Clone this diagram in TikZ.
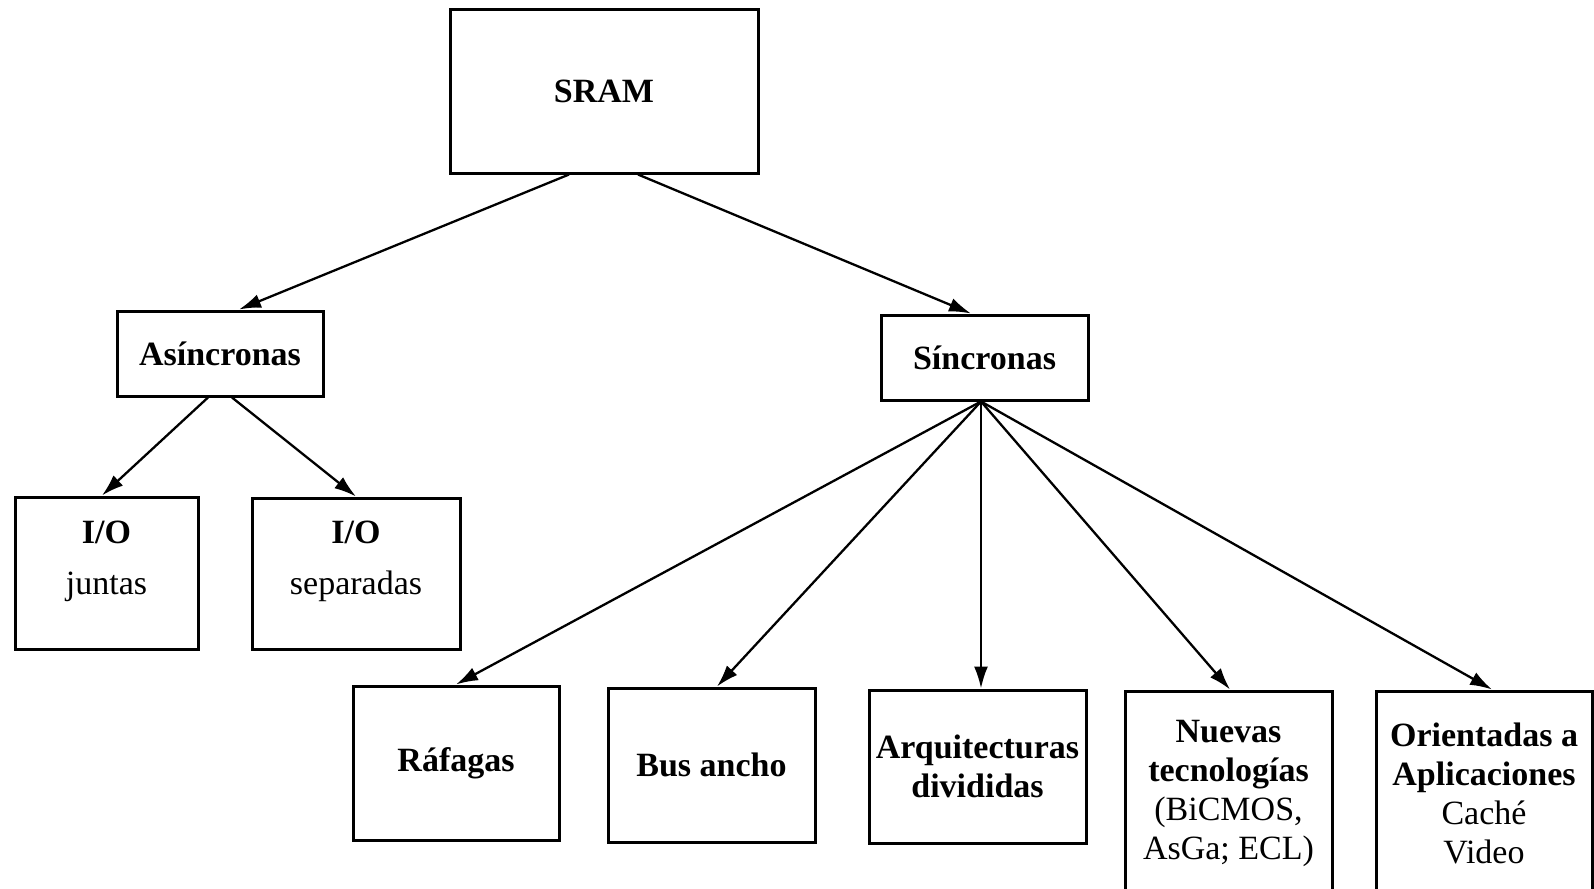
\documentclass[tikz,border=0pt]{standalone}
\usepackage{fontspec}
\setmainfont{Liberation Serif}
\usetikzlibrary{arrows.meta}
\begin{document}
\begin{tikzpicture}[x=1pt, y=-1pt,
  box/.style={draw, line width=3pt, inner sep=0pt, align=center,
    font=\fontsize{34}{39}\selectfont\bfseries},
  txt/.style={inner sep=0pt, align=center, font=\fontsize{34}{39}\selectfont},
  arr/.style={line width=2.3pt, -{Latex[length=22pt,width=14pt]}}]
\useasboundingbox (0,0) rectangle (1594,888);

% top level
\node[box, minimum width=308pt, minimum height=163pt] (sram) at (604,91.5) {SRAM};

% second level
\node[box, minimum width=206pt, minimum height=85pt] (asinc) at (220,353.5) {Asíncronas};
\node[box, minimum width=207pt, minimum height=85pt] (sinc) at (984.5,357.5) {Síncronas};

% asynchronous variants
\node[box, minimum width=183pt, minimum height=152pt] (ioj) at (106.5,573) {};
\node[txt, yshift=12pt] (iojt) at (ioj) {\textbf{I/O}\\[12pt]juntas};
\node[box, minimum width=208pt, minimum height=151pt] (iosep) at (356,573.5) {};
\node[txt, yshift=12pt] (iosept) at (iosep) {\textbf{I/O}\\[12pt]separadas};

% synchronous variants
\node[box, minimum width=206pt, minimum height=154pt] (raf) at (456,763) {Ráfagas};
\node[box, minimum width=207pt, minimum height=154pt] (bus) at (711.5,765) {Bus ancho};
\node[box, minimum width=217pt, minimum height=153pt] (arq) at (977.5,766.5) {Arquitecturas\\divididas};
% the last two boxes run past the lower edge of the page
\node[box, minimum width=207pt, minimum height=220pt] (nuev) at (1228.5,801) {};
\node[txt] (nuevt) at (1228.5,793.5)
  {\textbf{Nuevas}\\\textbf{tecnologías}\\(BiCMOS,\\AsGa; ECL)};
\node[box, minimum width=216pt, minimum height=220pt] (orien) at (1484,801) {};
\node[txt] (oriet) at (1484,793.5)
  {\textbf{Orientadas a}\\\textbf{Aplicaciones}\\Caché\\Video};

% connectors
\draw[arr] ([xshift=-35pt]sram.south) -- ([xshift=19pt]asinc.north);
\draw[arr] ([xshift=34pt]sram.south) -- ([xshift=-13.5pt]sinc.north);
\draw[arr] ([xshift=-12pt]asinc.south) -- ([xshift=-4.5pt]ioj.north);
\draw[arr] ([xshift=12pt]asinc.south) -- (iosep.north);
\draw[arr] ([xshift=-3.5pt]sinc.south) -- (raf.north);
\draw[arr] ([xshift=-3.5pt]sinc.south) -- ([xshift=5.5pt]bus.north);
\draw[arr] ([xshift=-3.5pt]sinc.south) -- ([xshift=3.5pt]arq.north);
\draw[arr] ([xshift=-3.5pt]sinc.south) -- ([xshift=1.5pt]nuev.north);
\draw[arr] ([xshift=-3.5pt]sinc.south) -- ([xshift=8pt]orien.north);
\end{tikzpicture}
\end{document}
